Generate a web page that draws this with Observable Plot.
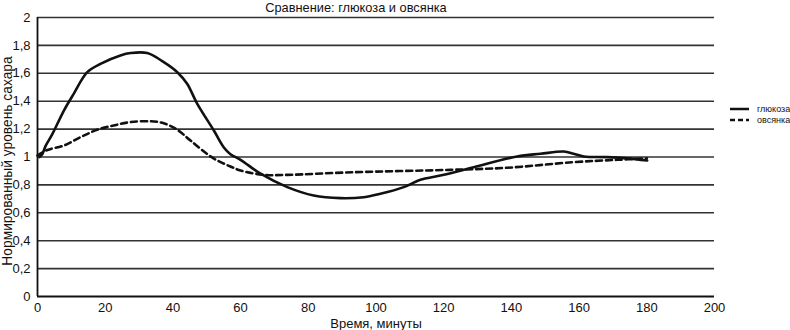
<!DOCTYPE html>
<html>
<head>
<meta charset="utf-8">
<script src="https://cdn.jsdelivr.net/npm/d3@7"></script>
<script src="https://cdn.jsdelivr.net/npm/@observablehq/plot@0.6"></script>
<style>
  html, body { margin: 0; padding: 0; background: #fff; }
  #wrap { position: relative; width: 790px; height: 330px; font-family: "Liberation Sans", Arial, sans-serif; }
  #title { position: absolute; left: 0; width: 712px; top: 0px; text-align: center; font-size: 12.8px; color: #111; line-height: 16px; }
  .leg { position: absolute; left: 730px; font-size: 9px; color: #111; display: flex; align-items: center; white-space: nowrap; }
  .leg svg { margin-right: 8px; }
</style>
</head>
<body>
<div id="wrap">
  <div id="chart"></div>
  <div id="title">Сравнение: глюкоза и овсянка</div>
  <div class="leg" style="top:104px"><svg width="19" height="6"><line x1="0" y1="3" x2="19" y2="3" stroke="#111" stroke-width="2.5"/></svg>глюкоза</div>
  <div class="leg" style="top:115px"><svg width="19" height="6"><line x1="0" y1="3" x2="19" y2="3" stroke="#111" stroke-width="2.5" stroke-dasharray="5,3"/></svg>овсянка</div>
</div>
<script>
const glucoseTime = [0.6, 1.4, 2.4, 4.3, 7.8, 10.7, 14.7, 18.6, 24.5, 27.5, 32.4, 37.3, 41.3, 44.2, 47.2, 52.1, 55, 57, 60, 65.9, 73.8, 81.6, 89.5, 96.4, 101.3, 108.2, 113.1, 119, 128.9, 141.7, 148.6, 155.5, 158.4, 161.4, 168.3, 174.2, 180.1];
const glucoseValue = [1.0, 1.02, 1.08, 1.16, 1.333, 1.453, 1.608, 1.668, 1.728, 1.745, 1.745, 1.68, 1.608, 1.525, 1.381, 1.19, 1.07, 1.02, 0.98, 0.88, 0.784, 0.724, 0.705, 0.712, 0.736, 0.784, 0.837, 0.867, 0.927, 1.004, 1.023, 1.039, 1.023, 1.004, 0.999, 0.99, 0.975];
const oatTime = [0, 2.9, 7.8, 12.7, 17.6, 22.5, 27.5, 33.4, 37.3, 41.3, 45.2, 51.1, 54.1, 57, 60, 66.9, 73.8, 93.4, 122, 138.8, 158.4, 171.3, 180];
const oatValue = [1.01, 1.05, 1.082, 1.142, 1.195, 1.226, 1.25, 1.256, 1.242, 1.195, 1.118, 1.004, 0.963, 0.932, 0.903, 0.872, 0.872, 0.891, 0.908, 0.923, 0.963, 0.98, 0.99];
const yTicks = [0, 0.2, 0.4, 0.6, 0.8, 1, 1.2, 1.4, 1.6, 1.8, 2];
const xTicks = [0, 20, 40, 60, 80, 100, 120, 140, 160, 180, 200];

const glucose = glucoseTime.map((t, i) => ({t, v: glucoseValue[i]}));
const oat = oatTime.map((t, i) => ({t, v: oatValue[i]}));
const fmt = d => String(d).replace(".", ",");

const chart = Plot.plot({
  width: 790,
  height: 330,
  marginLeft: 37,
  marginRight: 76,
  marginTop: 17,
  marginBottom: 34,
  style: {fontFamily: "'Liberation Sans', Arial, sans-serif", fontSize: "13px", color: "#111", background: "#fff"},
  x: {domain: [0, 200], ticks: xTicks, tickFormat: d => String(d), label: null},
  y: {domain: [0, 2], ticks: yTicks, tickFormat: fmt, label: null},
  marks: [
    Plot.ruleY(yTicks.filter(d => d > 0), {stroke: "#333", strokeWidth: 1.6}),
    Plot.ruleY([0], {stroke: "#111", strokeWidth: 1.8}),
    Plot.ruleX([0], {stroke: "#111", strokeWidth: 1.8}),
    Plot.axisX({ticks: xTicks, tickSize: 0, tickPadding: 6, tickFormat: d => String(d), fontSize: 13, label: null}),
    Plot.axisY({ticks: yTicks, tickSize: 0, tickPadding: 7, tickFormat: fmt, fontSize: 13, label: null}),
    Plot.line(oat, {x: "t", y: "v", curve: "catmull-rom", stroke: "#111", strokeWidth: 2.6, strokeDasharray: "6,4"}),
    Plot.line(glucose, {x: "t", y: "v", curve: "catmull-rom", stroke: "#111", strokeWidth: 2.6}),
    Plot.text(["Время, минуты"], {frameAnchor: "bottom", x: 100, dy: 27, lineAnchor: "middle", text: d => d, fontSize: 13, fontWeight: 500, fill: "#111"}),
    Plot.text(["Нормированный уровень сахара"], {frameAnchor: "left", dx: -30, dy: 4, rotate: -90, textAnchor: "middle", lineAnchor: "middle", text: d => d, fontSize: 13.8, fill: "#111"})
  ]
});
document.getElementById("chart").appendChild(chart);
</script>
</body>
</html>
